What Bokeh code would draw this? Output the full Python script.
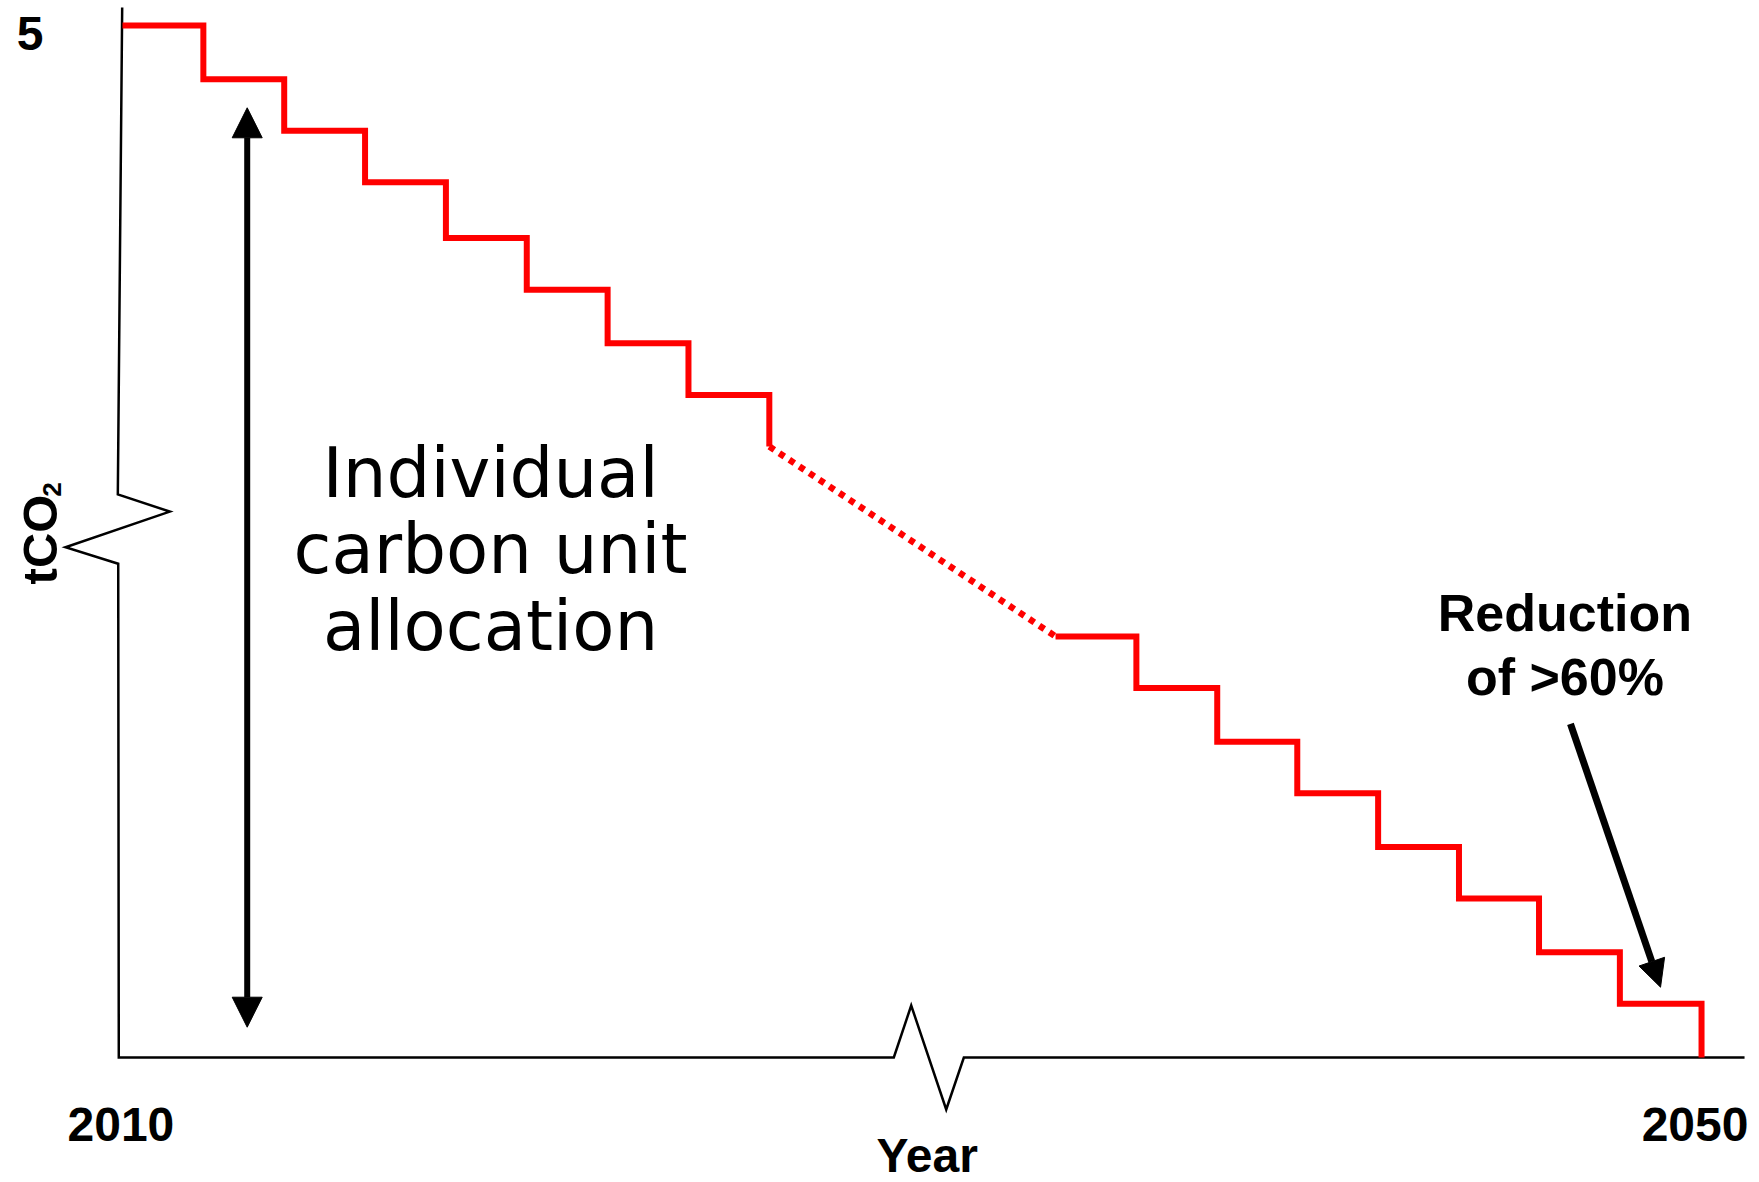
import math
from bokeh.plotting import figure
from bokeh.models import Range1d, Label, Arrow, NormalHead
from bokeh.embed import file_html
from bokeh.resources import INLINE

# ---- data (schematic position along the broken year axis, tCO2) ----
early_pos = [0, 1, 2, 3, 4, 5, 6, 7, 8]
early_tco2 = [5.00, 4.74, 4.49, 4.24, 3.97, 3.72, 3.46, 3.21, 2.96]

gap_pos = [8, 11.54]
gap_tco2 = [2.96, 2.04]

late_pos = [11.54, 12.54, 13.54, 14.53, 15.53, 16.53, 17.52, 18.52, 19.53]
late_tco2 = [2.04, 1.79, 1.53, 1.28, 1.02, 0.77, 0.51, 0.26, 0.0]

y_tick_label = "5"
x_tick_labels = ["2010", "2050"]
x_tick_pos = [-0.02, 19.45]

# broken axis outline (y axis with a break, x axis with a break)
axis_pos = [-0.004, -0.058, 0.585, -0.705, -0.053, -0.046, 9.540, 9.755, 10.188, 10.406, 20.062]
axis_val = [5.087, 2.728, 2.645, 2.472, 2.392, 0.0, 0.0, 0.252, -0.252, 0.0, 0.0]

# ---- figure ----
p = figure(width=1751, height=1182, x_range=Range1d(-1.509, 20.148),
           y_range=Range1d(-0.6056, 5.1211), output_backend="svg",
           toolbar_location=None, title=None, min_border=0,
           x_axis_type=None, y_axis_type=None)
p.grid.visible = False
p.outline_line_color = None
p.background_fill_color = "white"
p.border_fill_color = "white"

# axes outline
p.line(axis_pos, axis_val, line_color="black", line_width=2.5, line_join="miter")

# allocation steps
p.step(early_pos, early_tco2, mode="after", line_color="#ff0000", line_width=6, line_join="miter")
p.line(gap_pos, gap_tco2, line_color="#ff0000", line_width=6.5, line_dash="6 6")
p.step(late_pos, late_tco2, mode="after", line_color="#ff0000", line_width=6, line_join="miter")

# double-headed arrow
p.add_layout(Arrow(start=NormalHead(size=30, fill_color="black", line_color="black"),
                   end=NormalHead(size=30, fill_color="black", line_color="black"),
                   x_start=1.5424, y_start=0.1468, x_end=1.5424, y_end=4.6013,
                   line_color="black", line_width=6))

# reduction arrow
p.add_layout(Arrow(end=NormalHead(size=27, fill_color="black", line_color="black"),
                   x_start=17.909, y_start=1.6168, x_end=19.023, y_end=0.3406,
                   line_color="black", line_width=7))

bold = dict(text_font="Liberation Sans", text_font_style="bold", text_color="black")

# tick labels
p.add_layout(Label(x=-1.144, y=4.9627, text=y_tick_label, text_font_size="48px",
                   text_align="center", text_baseline="alphabetic", **bold))
for xp, t in zip(x_tick_pos, x_tick_labels):
    p.add_layout(Label(x=xp, y=-0.3266, text=t, text_font_size="48px",
                       text_align="center", text_baseline="alphabetic", **bold))

# axis titles
p.add_layout(Label(x=9.952, y=-0.4733, text="Year", text_font_size="48px",
                   text_align="center", text_baseline="alphabetic", **bold))
p.add_layout(Label(x=-1.02, y=2.5097, text="tCO", text_font_size="49px", angle=math.pi / 2,
                   text_align="center", text_baseline="alphabetic", **bold))
p.add_layout(Label(x=-0.8708, y=2.7519, text="2", text_font_size="26px", angle=math.pi / 2,
                   text_align="center", text_baseline="alphabetic", **bold))

# annotation texts
for t, yv in zip(["Individual", "carbon unit", "allocation"], [2.8333, 2.4622, 2.0930]):
    p.add_layout(Label(x=4.552, y=yv, text=t, text_font="DejaVu Sans", text_font_size="69px",
                       text_align="center", text_baseline="alphabetic", text_color="black"))

for t, yv in zip(["Reduction", "of >60%"], [2.1512, 1.8445]):
    p.add_layout(Label(x=17.84, y=yv, text=t, text_font_size="52px",
                       text_align="center", text_baseline="alphabetic", **bold))

open("out.html", "w").write(file_html(p, INLINE))
